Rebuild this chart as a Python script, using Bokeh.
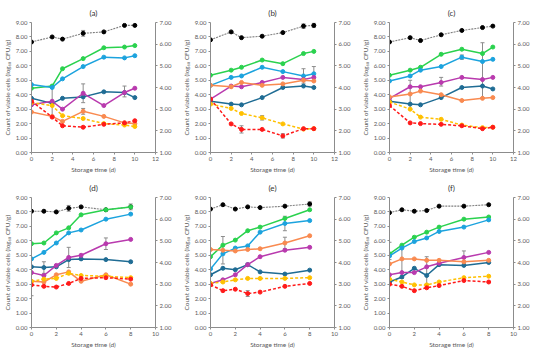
import math
from bokeh.plotting import figure
from bokeh.models import Range1d, LinearAxis, FixedTicker, NumeralTickFormatter, Whisker, ColumnDataSource, TeeHead, Label
from bokeh.layouts import column, row
from bokeh.embed import file_html
from bokeh.resources import INLINE

days_ac = [0, 2, 3, 5, 7, 9, 10]
days_df = [0, 1, 2, 3, 4, 6, 8]
panel_titles = ["(a)", "(b)", "(c)", "(d)", "(e)", "(f)"]
xticks_ac = [0, 2, 4, 6, 8, 10, 12]
xticks_df = [0, 2, 4, 6, 8, 10]
left_ticks = [0, 1, 2, 3, 4, 5, 6, 7, 8, 9]
right_ticks = [1, 2, 3, 4, 5, 6, 7]

# panel (a)
a_black = [7.65, 8.0, 7.85, 8.25, 8.35, 8.8, 8.8]
a_green = [4.45, 4.6, 5.8, 6.5, 7.25, 7.3, 7.4]
a_blue = [4.7, 4.5, 5.1, 5.95, 6.6, 6.55, 6.7]
a_teal = [3.75, 3.4, 3.75, 3.85, 4.2, 4.15, 3.8]
a_magenta = [3.3, 3.55, 3.0, 4.1, 3.25, 4.15, 4.45]
a_orange = [2.8, 2.5, 2.15, 2.85, 2.5, 2.05, 2.0]
a_yellow = [3.45, 3.25, 2.55, 2.35, 2.0, 1.9, 1.8]
a_red = [3.55, 2.45, 1.85, 1.75, 1.95, 2.05, 2.2]
# panel (b)
b_black = [7.8, 8.35, 7.95, 8.05, 8.3, 8.75, 8.8]
b_green = [5.35, 5.7, 5.9, 6.4, 6.15, 6.85, 7.0]
b_blue = [4.65, 5.2, 5.3, 5.9, 5.6, 5.3, 5.45]
b_teal = [3.55, 3.35, 3.3, 3.8, 4.5, 4.6, 4.5]
b_magenta = [3.7, 4.6, 4.55, 4.85, 5.2, 5.05, 5.2]
b_orange = [4.65, 4.55, 4.85, 4.65, 4.75, 5.0, 4.95]
b_yellow = [3.35, 3.05, 2.7, 2.4, 1.98, 1.62, 1.65]
b_red = [3.7, 1.98, 1.6, 1.6, 1.15, 1.65, 1.65]
# panel (c)
c_black = [7.65, 7.95, 7.75, 8.15, 8.45, 8.65, 8.75]
c_green = [5.35, 5.7, 5.9, 6.8, 7.15, 6.85, 7.3]
c_blue = [4.95, 5.3, 5.7, 5.95, 6.6, 6.3, 6.45]
c_teal = [3.55, 3.35, 3.3, 3.8, 4.5, 4.6, 4.4]
c_magenta = [3.75, 4.55, 4.55, 4.85, 5.2, 5.05, 5.2]
c_orange = [3.85, 4.05, 4.25, 4.0, 3.6, 3.75, 3.8]
c_yellow = [3.5, 3.0, 2.45, 2.3, 1.9, 1.72, 1.75]
c_red = [3.25, 2.05, 2.0, 1.95, 1.85, 1.65, 1.75]
# panel (d)
d_black = [8.05, 8.05, 8.0, 8.25, 8.35, 8.15, 8.35]
d_green = [5.8, 5.85, 6.55, 6.9, 7.8, 8.15, 8.35]
d_blue = [4.75, 5.2, 5.85, 6.55, 6.75, 7.5, 7.85]
d_teal = [4.2, 4.15, 4.2, 4.7, 4.75, 4.7, 4.55]
d_magenta = [3.8, 3.6, 4.3, 4.85, 5.0, 5.8, 6.1]
d_orange = [3.2, 3.15, 3.65, 3.85, 3.2, 3.65, 3.0]
d_yellow = [3.2, 3.35, 3.4, 3.75, 3.6, 3.55, 3.45]
d_red = [2.95, 2.85, 2.8, 3.05, 3.4, 3.45, 3.35]
# panel (e)
e_black = [8.2, 8.5, 8.2, 8.35, 8.3, 8.4, 8.55]
e_green = [4.9, 5.7, 6.05, 6.7, 6.95, 7.55, 8.15]
e_blue = [4.05, 5.1, 5.5, 5.65, 6.6, 7.2, 7.4]
e_teal = [3.65, 4.1, 4.0, 4.35, 3.85, 3.7, 3.97]
e_magenta = [3.05, 3.3, 3.65, 4.35, 4.9, 5.35, 5.55]
e_orange = [5.4, 5.35, 5.3, 5.4, 5.45, 5.85, 6.35]
e_yellow = [3.05, 3.15, 3.3, 3.4, 3.4, 3.4, 3.45]
e_red = [2.95, 2.55, 2.65, 2.35, 2.45, 2.85, 3.05]
# panel (f)
f_black = [7.95, 8.15, 8.05, 8.1, 8.4, 8.4, 8.5]
f_green = [5.1, 5.7, 6.25, 6.6, 6.95, 7.5, 7.65]
f_blue = [4.95, 5.5, 5.95, 6.2, 6.65, 6.95, 7.45]
f_teal = [3.15, 3.5, 4.1, 3.6, 4.35, 4.3, 4.5]
f_magenta = [3.65, 3.8, 3.8, 4.2, 4.45, 4.85, 5.2]
f_orange = [4.4, 4.75, 4.75, 4.65, 4.65, 4.55, 4.65]
f_yellow = [3.35, 3.15, 2.95, 2.95, 3.15, 3.45, 3.55]
f_red = [3.0, 2.85, 2.55, 2.75, 2.9, 3.25, 3.15]

# error bars: x, lower, upper
a_err_x = [5, 2, 5, 5, 9]
a_err_lo = [8.05, 2.55, 3.45, 2.65, 3.85]
a_err_hi = [8.45, 4.6, 4.75, 3.05, 4.6]
b_err_x = [9, 10, 9, 10, 3, 7, 5]
b_err_lo = [8.6, 8.65, 4.8, 4.95, 1.35, 1.0, 2.25]
b_err_hi = [8.9, 8.95, 5.8, 5.95, 1.85, 1.3, 2.55]
c_err_x = [9, 2, 5, 7]
c_err_lo = [3.8, 3.0, 4.6, 6.45]
c_err_hi = [7.6, 5.0, 5.2, 6.75]
d_err_x = [3, 8, 3, 6, 1, 0]
d_err_lo = [8.05, 8.15, 4.15, 5.4, 3.75, 2.2]
d_err_hi = [8.45, 8.55, 5.55, 6.2, 4.55, 3.2]
e_err_x = [1, 3, 6, 6, 3, 8]
e_err_lo = [4.4, 4.25, 6.7, 5.45, 2.15, 8.4]
e_err_hi = [6.3, 4.45, 7.7, 6.25, 2.55, 8.7]
f_err_x = [6, 3, 1, 0]
f_err_lo = [4.45, 3.0, 3.4, 4.7]
f_err_hi = [5.3, 4.9, 5.5, 5.9]

FONT = "Lato"
TXT = "#595959"
AXC = "#8c8c8c"
FRAME_W = 124
FRAME_H = 130

styles = [
    ("black", "#000000", "#7f7f7f", "2 1", 1.1),
    ("green", "#2ad24e", "#2ad24e", "solid", 1.5),
    ("blue", "#1ca3de", "#1ca3de", "solid", 1.5),
    ("teal", "#1f6c94", "#1f6c94", "solid", 1.5),
    ("magenta", "#b93aae", "#b93aae", "solid", 1.5),
    ("orange", "#f98a50", "#f98a50", "solid", 1.5),
    ("yellow", "#ffc000", "#ffc000", "3 2", 1.5),
    ("red", "#ff1a1a", "#ff1a1a", "3 2", 1.5),
]

panels = [
    (days_ac, xticks_ac, 12, [a_black, a_green, a_blue, a_teal, a_magenta, a_orange, a_yellow, a_red], (a_err_x, a_err_lo, a_err_hi)),
    (days_ac, xticks_ac, 12, [b_black, b_green, b_blue, b_teal, b_magenta, b_orange, b_yellow, b_red], (b_err_x, b_err_lo, b_err_hi)),
    (days_ac, xticks_ac, 12, [c_black, c_green, c_blue, c_teal, c_magenta, c_orange, c_yellow, c_red], (c_err_x, c_err_lo, c_err_hi)),
    (days_df, xticks_df, 10, [d_black, d_green, d_blue, d_teal, d_magenta, d_orange, d_yellow, d_red], (d_err_x, d_err_lo, d_err_hi)),
    (days_df, xticks_df, 10, [e_black, e_green, e_blue, e_teal, e_magenta, e_orange, e_yellow, e_red], (e_err_x, e_err_lo, e_err_hi)),
    (days_df, xticks_df, 10, [f_black, f_green, f_blue, f_teal, f_magenta, f_orange, f_yellow, f_red], (f_err_x, f_err_lo, f_err_hi)),
]


def style_axis(ax):
    ax.axis_line_color = AXC
    ax.major_tick_line_color = AXC
    ax.major_tick_out = 2
    ax.major_tick_in = 0
    ax.minor_tick_line_color = None
    ax.major_label_text_font = FONT
    ax.major_label_text_font_size = "6px"
    ax.major_label_text_color = TXT
    ax.axis_label_text_font = FONT
    ax.axis_label_text_font_size = "6.5px"
    ax.axis_label_text_font_style = "normal"
    ax.axis_label_text_color = TXT
    ax.major_label_standoff = 2
    ax.axis_label_standoff = 2


figs = []
for i, (days, xt, xmax, series, errs) in enumerate(panels):
    p = figure(frame_width=FRAME_W, frame_height=FRAME_H, output_backend="svg", toolbar_location=None,
               x_range=Range1d(0, xmax), y_range=Range1d(0, 9),
               min_border_left=4, min_border_right=24, min_border_top=4, min_border_bottom=4)
    p.title.text = panel_titles[i]
    p.title.align = "center"
    p.title.text_font = FONT
    p.title.text_font_style = "normal"
    p.title.text_font_size = "8px"
    p.title.text_color = "#333333"
    p.outline_line_color = None
    p.grid.visible = False
    p.extra_y_ranges = {"ph": Range1d(1, 7)}
    rax = LinearAxis(y_range_name="ph")
    p.add_layout(rax, "right")
    p.add_layout(Label(x=FRAME_W + 19, y=FRAME_H / 2, x_units="screen", y_units="screen",
                       text="pH values", angle=math.pi / 2, text_align="center",
                       text_baseline="middle", text_font=FONT, text_font_size="6.5px",
                       text_color=TXT))
    p.yaxis[0].axis_label = "Count of viable cells (log\u2081\u2080 CFU/g)"
    p.xaxis.axis_label = "Storage time (d)"
    p.xaxis.ticker = FixedTicker(ticks=xt)
    p.yaxis[0].ticker = FixedTicker(ticks=left_ticks)
    rax.ticker = FixedTicker(ticks=right_ticks)
    p.yaxis.formatter = NumeralTickFormatter(format="0.00")
    for ax in list(p.xaxis) + list(p.yaxis):
        style_axis(ax)

    ex, elo, ehi = errs
    src = ColumnDataSource(dict(x=ex, lo=elo, hi=ehi))
    wk = Whisker(source=src, base="x", lower="lo", upper="hi", line_color="#8c8c8c", line_width=1)
    wk.upper_head = TeeHead(size=4, line_color="#8c8c8c", line_width=1)
    wk.lower_head = TeeHead(size=4, line_color="#8c8c8c", line_width=1)
    p.add_layout(wk)

    for (name, mcol, lcol, dash, lw), vals in zip(styles, series):
        p.line(days, vals, line_color=lcol, line_width=lw, line_dash=dash)
        p.scatter(days, vals, marker="circle", size=4, fill_color=mcol, line_color=mcol)
    figs.append(p)

layout = column(row(*figs[:3]), row(*figs[3:]))

open("out.html", "w").write(file_html(layout, INLINE))
